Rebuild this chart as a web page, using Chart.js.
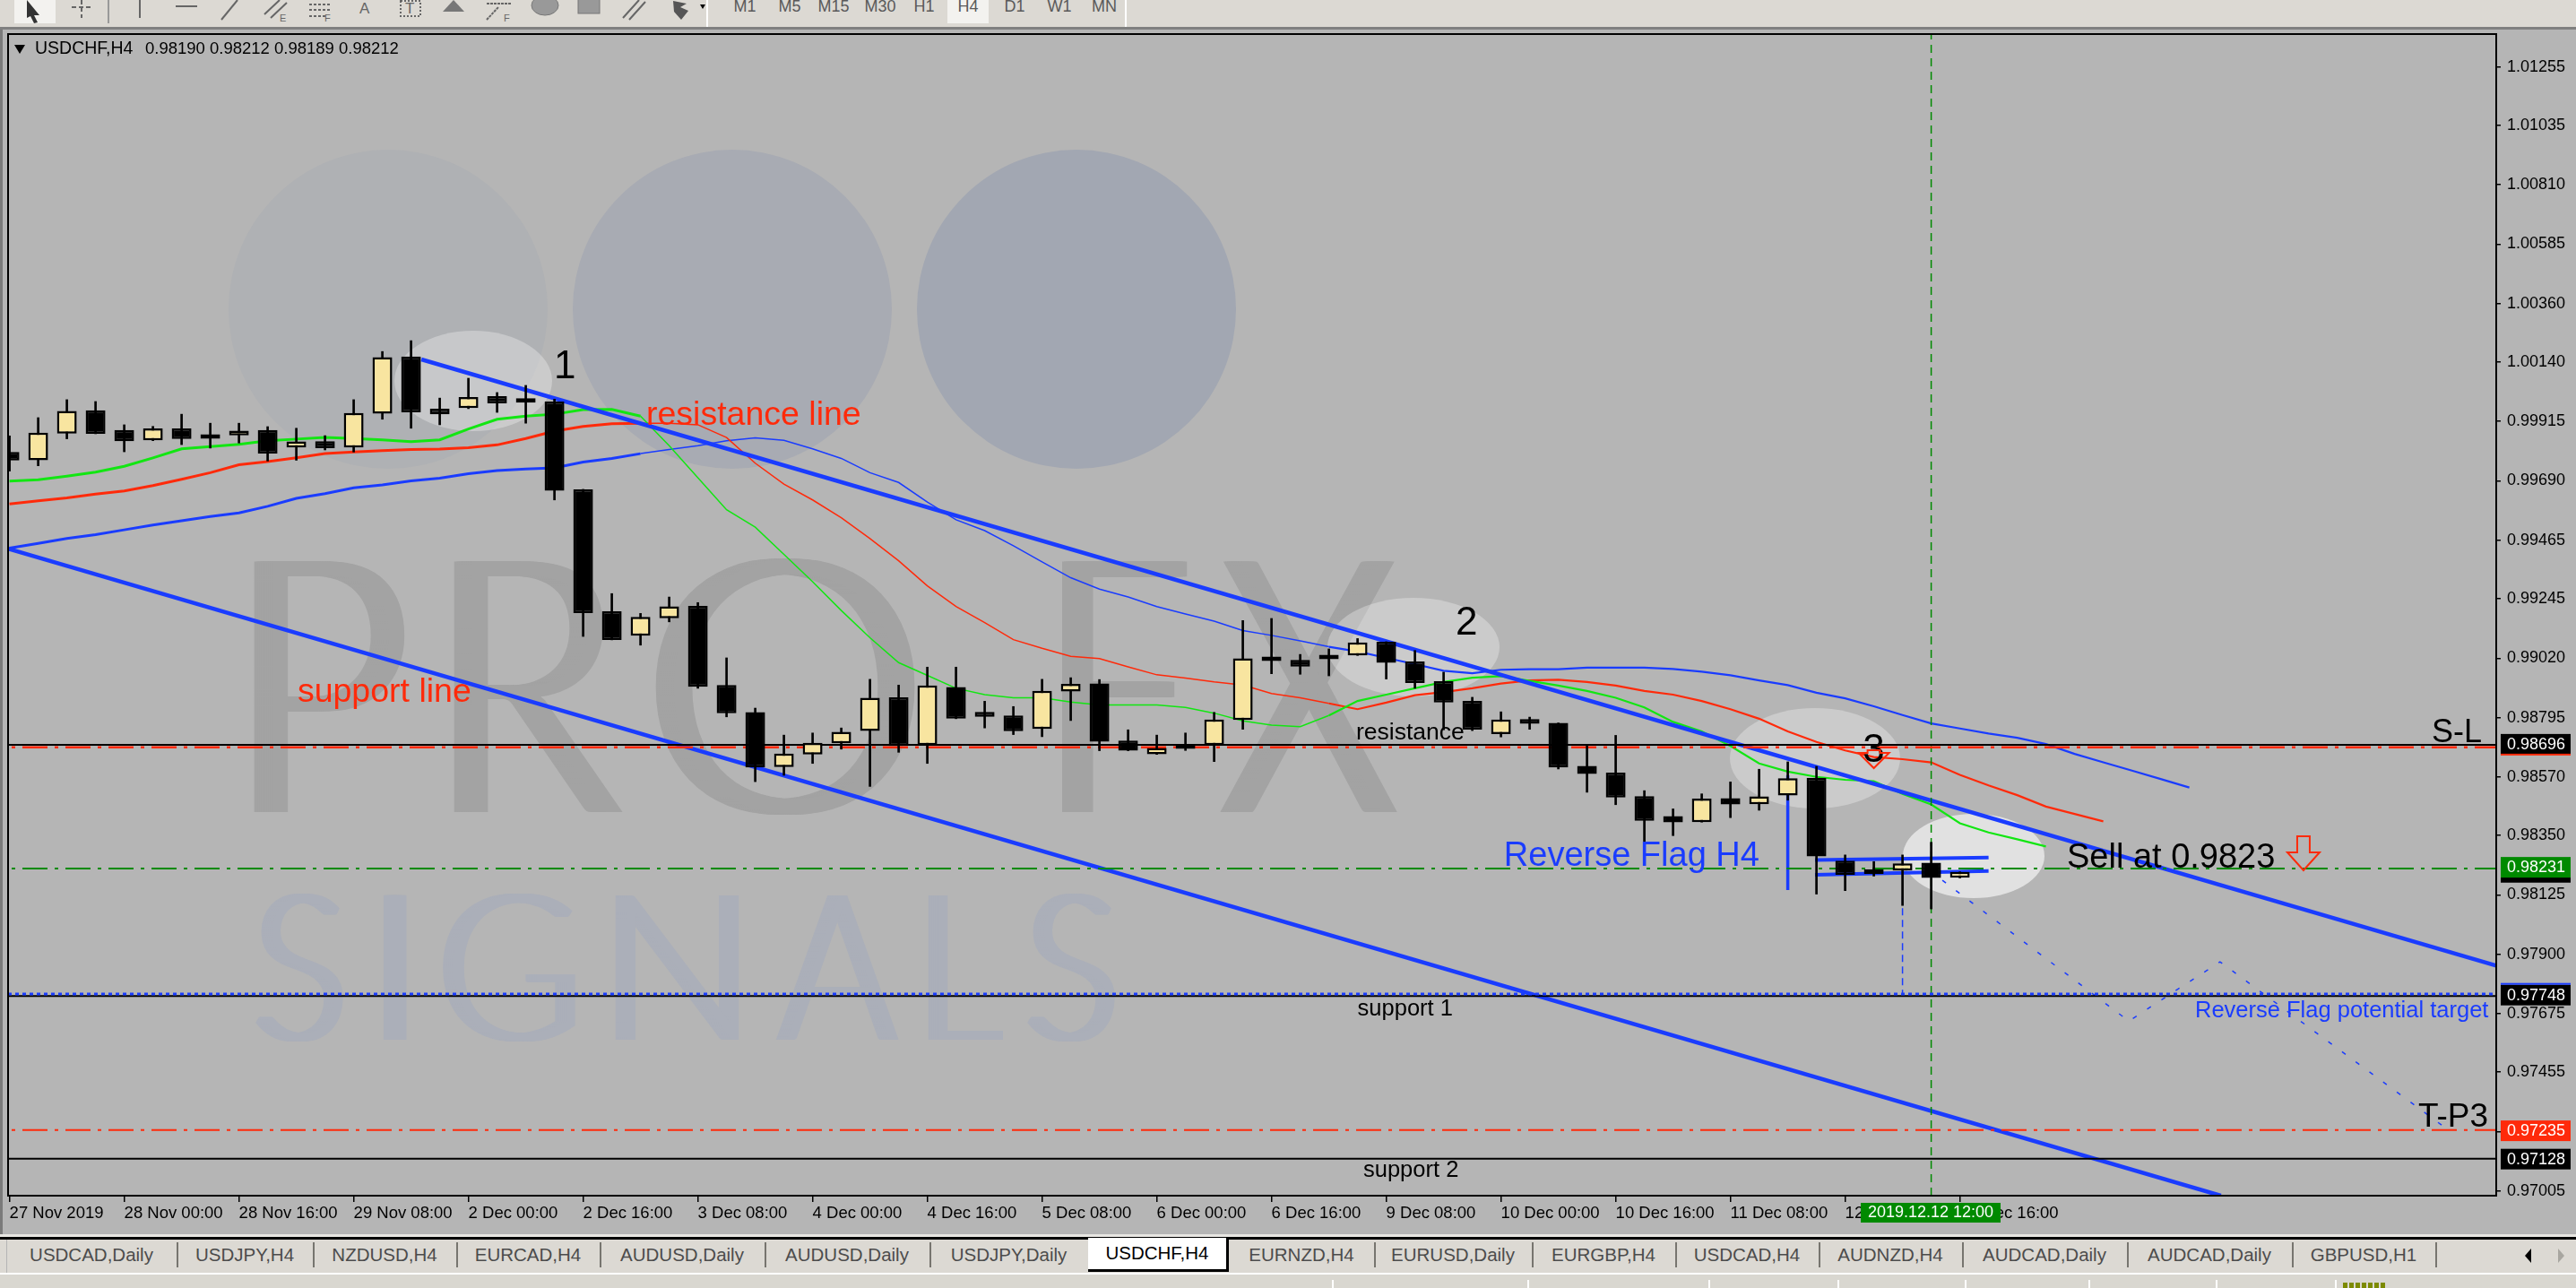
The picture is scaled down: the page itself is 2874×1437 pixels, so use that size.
<!DOCTYPE html>
<html>
<head>
<meta charset="utf-8">
<title>USDCHF,H4</title>
<script src="https://cdn.jsdelivr.net/npm/chart.js@4/dist/chart.umd.min.js"></script>
<style>
html, body { margin: 0; padding: 0; width: 2874px; height: 1437px; overflow: hidden; background: #b5b5b5; font-family: "Liberation Sans", sans-serif; }
#wrap { position: absolute; left: 0; top: 0; width: 2874px; height: 1437px; }
.bar { position: absolute; left: 0; width: 2874px; background: #dcd9d3; }
.abs { position: absolute; }
.tf { position: absolute; top: 0; height: 26px; line-height: 14px; font-size: 18px; color: #5a5a5a; transform: translateX(-50%); white-space: nowrap; }
.tab { position: absolute; top: 1384px; height: 36px; line-height: 31px; font-size: 20.5px; color: #4c4c4c; text-align: center; white-space: nowrap; }
.sep { position: absolute; width: 2px; background: #77756f; }
</style>
</head>
<body>
<div id="wrap"><canvas id="chart"></canvas></div>
<script>
// values, one entry per H4 candle
const openValues = [0.99799,0.99768,0.99869,0.99957,0.99882,0.99843,0.99888,0.99861,0.99862,0.99882,0.99816,0.9984,0.99816,0.99944,1.0016,0.99963,0.99965,1.0001,0.99989,0.9999,0.99658,0.99197,0.99105,0.99171,0.99217,0.98918,0.98816,0.98608,0.98656,0.98698,0.98745,0.98872,0.98691,0.98911,0.98817,0.98803,0.98752,0.98894,0.98924,0.98708,0.98657,0.98677,0.98691,0.98786,0.99014,0.99013,0.99016,0.9903,0.99082,0.99007,0.98933,0.98858,0.98733,0.9879,0.98775,0.98613,0.98587,0.98498,0.98423,0.984,0.98491,0.98468,0.98501,0.98568,0.98254,0.98204,0.98217,0.98247,0.9819];
const highValues = [0.9986,0.99929,0.99997,0.9999,0.99902,0.99896,0.99942,0.99908,0.99908,0.99895,0.99889,0.99861,0.99997,1.00179,1.0022,1.00003,1.00078,1.00024,1.00051,0.99999,0.99658,0.99264,0.99189,0.99251,0.9923,0.99021,0.98831,0.98729,0.98737,0.98756,0.9894,0.98918,0.98986,0.98986,0.98857,0.98837,0.9894,0.98946,0.98939,0.98749,0.98729,0.98737,0.98815,0.99162,0.9917,0.99034,0.99055,0.99094,0.99082,0.99049,0.98967,0.98872,0.98817,0.98797,0.98775,0.98688,0.98728,0.98519,0.9845,0.98507,0.98552,0.986,0.98628,0.98611,0.98276,0.98251,0.98276,0.98324,0.98212];
const lowValues = [0.99727,0.99747,0.99849,0.99868,0.998,0.99842,0.99827,0.99814,0.99833,0.99765,0.99768,0.99807,0.99799,0.99923,0.99889,0.99902,0.99963,0.99949,0.99908,0.99618,0.99102,0.99089,0.99069,0.99157,0.98906,0.98798,0.98553,0.98577,0.98622,0.98676,0.98535,0.98664,0.98622,0.98791,0.98756,0.98731,0.98723,0.98784,0.9867,0.9867,0.98656,0.98671,0.98629,0.98751,0.98961,0.98959,0.98953,0.9903,0.98941,0.98906,0.98749,0.98746,0.98722,0.98751,0.98601,0.98513,0.98466,0.98325,0.98349,0.984,0.98417,0.98445,0.98483,0.98128,0.98141,0.98196,0.98085,0.98072,0.98189];
const closeValues = [0.99767,0.99872,0.99954,0.99868,0.9984,0.99888,0.99848,0.99849,0.9988,0.99793,0.99839,0.99814,0.99947,1.00158,0.99949,0.99942,1.00007,0.99983,0.99986,0.99653,0.9919,0.99089,0.99176,0.99216,0.98912,0.98812,0.98607,0.98659,0.987,0.98741,0.9887,0.98688,0.98917,0.98791,0.98798,0.98744,0.98896,0.98923,0.98704,0.9867,0.9868,0.98691,0.98788,0.99019,0.99009,0.98988,0.99033,0.99079,0.99002,0.98926,0.98852,0.9875,0.98788,0.98772,0.98607,0.98582,0.98493,0.98405,0.98399,0.98489,0.98467,0.98497,0.98566,0.9827,0.98201,0.98219,0.98244,0.98189,0.98212];

// moving averages, shifted forward so they run past the last candle
const greenMa = [0.99689,0.99694,0.99708,0.99723,0.99745,0.99777,0.99811,0.9982,0.99828,0.99842,0.99848,0.99854,0.9985,0.99845,0.99838,0.99845,0.99886,0.99923,0.99935,0.99942,0.99959,0.9996,0.99935,0.99823,0.99702,0.99581,0.99515,0.99412,0.99309,0.992,0.99097,0.99003,0.98955,0.98906,0.98882,0.9887,0.9887,0.98854,0.98843,0.98843,0.98843,0.98834,0.98812,0.98783,0.98767,0.98761,0.98803,0.98858,0.98882,0.98906,0.9893,0.98946,0.98952,0.98934,0.98916,0.98896,0.9887,0.98834,0.98779,0.98743,0.98688,0.98622,0.98591,0.98571,0.9856,0.98555,0.98507,0.98467,0.98396,0.98361,0.98335,0.98308];
const redMa = [0.99603,0.99615,0.99626,0.9964,0.99652,0.99672,0.99696,0.99721,0.99751,0.99763,0.99777,0.99793,0.99799,0.99804,0.99809,0.9981,0.99815,0.99826,0.9985,0.99878,0.99896,0.99906,0.99908,0.99908,0.99902,0.99854,0.99757,0.99678,0.99618,0.99551,0.99472,0.99388,0.99293,0.99215,0.99154,0.9909,0.99057,0.99027,0.99018,0.98987,0.98957,0.98945,0.9893,0.98918,0.98886,0.9887,0.98849,0.98827,0.98852,0.9888,0.98892,0.98906,0.98924,0.98936,0.98938,0.9893,0.98916,0.98896,0.98882,0.98858,0.98827,0.98791,0.98743,0.98703,0.98671,0.98646,0.98638,0.98626,0.98579,0.98539,0.98502,0.98459,0.98431,0.98403];
const blueMa = [0.99436,0.99454,0.99472,0.99487,0.99505,0.99523,0.99539,0.99555,0.99569,0.99594,0.99624,0.99642,0.99664,0.99675,0.9969,0.997,0.99717,0.99729,0.99735,0.99739,0.99761,0.99775,0.99793,0.99809,0.99823,0.99842,0.99853,0.99843,0.99811,0.99775,0.99721,0.99684,0.9961,0.99543,0.99502,0.99445,0.99384,0.99324,0.99281,0.99251,0.99215,0.99187,0.9916,0.99124,0.99106,0.99085,0.99063,0.99045,0.99021,0.98997,0.98972,0.98963,0.98976,0.98978,0.98978,0.98984,0.98984,0.98984,0.98979,0.98969,0.98955,0.98936,0.98918,0.98889,0.98868,0.98838,0.98805,0.98773,0.98754,0.98735,0.98719,0.98695,0.98658,0.98626,0.98595,0.98563,0.98531];

const yTickValues = [1.01255,1.01035,1.0081,1.00585,1.0036,1.0014,0.99915,0.9969,0.99465,0.99245,0.9902,0.98795,0.9857,0.9835,0.98125,0.979,0.97675,0.97455,0.9723,0.97005];
const xTickLabels = ['27 Nov 2019','28 Nov 00:00','28 Nov 16:00','29 Nov 08:00','2 Dec 00:00','2 Dec 16:00','3 Dec 08:00','4 Dec 00:00','4 Dec 16:00','5 Dec 08:00','6 Dec 00:00','6 Dec 16:00','9 Dec 08:00','10 Dec 00:00','10 Dec 16:00','11 Dec 08:00','12 Dec 00:00','12 Dec 16:00'];

// trend lines and levels drawn on the MT4 chart: bar index / price pairs
const resistanceX = [14.36, 86.7];
const resistanceY = [1.00149, 0.97858];
const supportX = [-0.05, 77.1];
const supportY = [0.99434, 0.96988];
const flagUpperX = [62.95, 69];
const flagUpperY = [0.98257, 0.98266];
const flagLowerX = [62.95, 69];
const flagLowerY = [0.98201, 0.98215];
const poleX = [62, 62];
const poleY = [0.98577, 0.98143];
const dropX = [66, 66];
const dropY = [0.98119, 0.9775];
const pathX = [67.39, 73.89, 77.07, 84.92];
const pathY = [0.9818, 0.97648, 0.97872, 0.97245];
const levelSlBlack = 0.98692;
const levelSlRed = 0.98683;
const levelEntry = 0.98225;
const levelS1Blue = 0.9775;
const levelS1Black = 0.97743;
const levelTp = 0.97236;
const levelS2 = 0.97128;
const crossBar = 67;

const tfNames = ['M1','M5','M15','M30','H1','H4','D1','W1','MN'];
const tabNames = ['USDCAD,Daily','USDJPY,H4','NZDUSD,H4','EURCAD,H4','AUDUSD,Daily','AUDUSD,Daily','USDJPY,Daily','USDCHF,H4','EURNZD,H4','EURUSD,Daily','EURGBP,H4','USDCAD,H4','AUDNZD,H4','AUDCAD,Daily','AUDCAD,Daily','GBPUSD,H1'];

const X_MIN = -0.05, X_MAX = 86.7, Y_MIN = 0.96988, Y_MAX = 1.01379;
const BLUE = '#1a3cff';
const RED = '#ff2a0a';
const GREEN = '#008a00';
const SANS = '"Liberation Sans", sans-serif';

const notes = [
    { text: '1', k: 19.36, p: 1.00078, size: 44, color: '#000', align: 'center' },
    { text: '2', k: 50.8, p: 0.99109, size: 44, color: '#000', align: 'center' },
    { text: '3', k: 65, p: 0.98628, size: 44, color: '#000', align: 'center' },
    { text: 'resistance line', k: 22.2, p: 0.99902, size: 37.5, color: RED },
    { text: 'support line', k: 10.04, p: 0.98855, size: 37.5, color: RED },
    { text: 'resistance', k: 46.95, p: 0.98712, size: 26.5, color: '#000' },
    { text: 'support 1', k: 47, p: 0.97669, size: 25.5, color: '#000' },
    { text: 'support 2', k: 47.2, p: 0.97059, size: 25.5, color: '#000' },
    { text: 'Reverse Flag H4', k: 52.1, p: 0.98234, size: 38, color: BLUE },
    { text: 'Sell at 0.9823', k: 71.73, p: 0.98228, size: 38, color: '#000' },
    { text: 'S-L', k: 84.45, p: 0.98702, size: 36, color: '#000' },
    { text: 'T-P3', k: 83.98, p: 0.97248, size: 37, color: '#000' },
    { text: 'Reverse Flag potential target', k: 76.2, p: 0.97662, size: 25.5, color: BLUE }
];

// right hand price tags, last ones on top
const tags = [
    { text: '', p: 0.98212, bg: '#000', fg: '#fff' },
    { text: '0.98696', p: 0.98696, bg: '#000', fg: '#fff', under: RED },
    { text: '0.98231', p: 0.98231, bg: '#008a00', fg: '#fff' },
    { text: '0.97748', p: 0.97748, bg: '#000', fg: '#fff', over: BLUE },
    { text: '0.97235', p: 0.97235, bg: '#ff2a0a', fg: '#fff' },
    { text: '0.97128', p: 0.97128, bg: '#000', fg: '#fff' }
];

function line(xs, ys, color, width, dash, order) {
    return {
        type: 'line',
        data: xs.map(function(x, i) { return { x: x, y: ys[i] }; }),
        borderColor: color,
        borderWidth: width,
        borderDash: dash || [],
        pointRadius: 0,
        tension: 0,
        fill: false,
        order: order || 5
    };
}

function maLine(values, color) {
    const ds = line(values.map(function(v, i) { return i; }), values, color, 3, null, 6);
    ds.segment = {
        borderWidth: function(ctx) {
            const i = ctx.p0DataIndex;
            if (i < 22) return 3;
            if (i < 46) return 1.5;
            return 2.2;
        }
    };
    return ds;
}

function hLevel(price, color, width, dash) {
    return line([X_MIN - 1, X_MAX + 1], [price, price], color, width, dash, 5);
}

const dashDot = [28, 8, 4, 8];
const candleBars = openValues.map(function(o, i) { return i; });

const datasets = [
    maLine(greenMa, '#12e612'),
    maLine(redMa, '#ff2a0a'),
    maLine(blueMa, '#1a3cff'),
    hLevel(levelSlBlack, '#000', 2),
    hLevel(levelSlRed, RED, 2.5, dashDot),
    hLevel(levelEntry, GREEN, 2, dashDot),
    hLevel(levelS1Blue, BLUE, 3, [4, 4]),
    hLevel(levelS1Black, '#000', 2),
    hLevel(levelTp, RED, 2, dashDot),
    hLevel(levelS2, '#000', 2),
    line([crossBar, crossBar], [Y_MIN, Y_MAX], GREEN, 1.5, [9, 6], 5),
    line(resistanceX, resistanceY, BLUE, 4.5, null, 5.5),
    line(supportX, supportY, BLUE, 4.5, null, 5.5),
    line(flagUpperX, flagUpperY, BLUE, 4),
    line(flagLowerX, flagLowerY, BLUE, 4),
    line(poleX, poleY, BLUE, 3.5),
    line(dropX, dropY, BLUE, 1.5, [8, 5]),
    line(pathX, pathY, BLUE, 1.5, [5, 14]),
    {
        type: 'bar',
        data: candleBars.map(function(k) { return { x: k, y: [lowValues[k], highValues[k]] }; }),
        backgroundColor: '#000',
        barThickness: 2,
        grouped: false,
        order: 2
    },
    {
        type: 'bar',
        data: candleBars.map(function(k) {
            return { x: k, y: [Math.min(openValues[k], closeValues[k]), Math.max(openValues[k], closeValues[k])] };
        }),
        backgroundColor: candleBars.map(function(k) { return closeValues[k] >= openValues[k] ? '#f8e5a0' : '#000'; }),
        borderColor: '#000',
        borderWidth: 2.5,
        borderSkipped: false,
        inflateAmount: 0,
        minBarLength: 5,
        barThickness: 22,
        grouped: false,
        order: 1
    }
];

// logo letter: squeezed to its box, then smeared sideways for the thick stems and thin bars of the logo face
function logoLetter(ctx, text, left, right, base, smear) {
    const m = ctx.measureText(text);
    const ink = m.actualBoundingBoxRight + m.actualBoundingBoxLeft;
    const sx = (right - left - smear) / ink;
    for (let d = 0; d <= smear; d += 2) {
        ctx.save();
        ctx.translate(left + d, base);
        ctx.scale(sx, 1);
        ctx.fillText(text, m.actualBoundingBoxLeft, 0);
        ctx.restore();
    }
}

// logo watermark and the pale highlight blobs sit under everything
const backdrop = {
    id: 'backdrop',
    beforeDatasetsDraw: function(chart) {
        const ctx = chart.ctx;
        const area = chart.chartArea;
        ctx.save();
        ctx.beginPath();
        ctx.rect(area.left, area.top, area.right - area.left, area.bottom - area.top);
        ctx.clip();
        [[433, '#afb1b4'], [817, '#a8abb3'], [1201, '#a2a7b2']].forEach(function(c) {
            ctx.fillStyle = c[1];
            ctx.beginPath();
            ctx.arc(c[0], 345, 178, 0, Math.PI * 2);
            ctx.fill();
        });
        ctx.fillStyle = '#a3a3a3';
        ctx.font = '300 395px Lato, "Liberation Sans", sans-serif';
        ctx.textBaseline = 'alphabetic';
        [['P', 280, 454], ['R', 503, 695], ['O', 727, 1021], ['F', 1182, 1325], ['X', 1360, 1561]].forEach(function(l) {
            logoLetter(ctx, l[0], l[1], l[2], 906, 20);
        });
        ctx.fillStyle = '#abafb9';
        ctx.font = '300 228px Lato, "Liberation Sans", sans-serif';
        [['S', 285, 383], ['I', 427, 454], ['G', 494, 642], ['N', 686, 825], ['A', 865, 1003], ['L', 1035, 1119], ['S', 1146, 1244]].forEach(function(l) {
            logoLetter(ctx, l[0], l[1], l[2], 1160, 12);
        });
        [[528, 425, 88, 56, 0.3], [1577, 722, 96, 55, 0.3], [2025, 846, 95, 56, 0.3], [2202, 955, 79, 47, 0.6]].forEach(function(e) {
            ctx.fillStyle = 'rgba(255,255,255,' + e[4] + ')';
            ctx.beginPath();
            ctx.ellipse(e[0], e[1], e[2], e[3], 0, 0, Math.PI * 2);
            ctx.fill();
        });
        ctx.restore();
    }
};

function hollowArrow(ctx, x, tip, top, shaft, head, headH) {
    ctx.beginPath();
    ctx.moveTo(x - shaft, top);
    ctx.lineTo(x + shaft, top);
    ctx.lineTo(x + shaft, tip - headH);
    ctx.lineTo(x + head, tip - headH);
    ctx.lineTo(x, tip);
    ctx.lineTo(x - head, tip - headH);
    ctx.lineTo(x - shaft, tip - headH);
    ctx.closePath();
    ctx.stroke();
}

// texts, arrows, price tags and the frame
const overlay = {
    id: 'overlay',
    afterDraw: function(chart) {
        const ctx = chart.ctx;
        const sx = chart.scales.x;
        const sy = chart.scales.y;
        const area = chart.chartArea;
        ctx.save();
        ctx.textBaseline = 'alphabetic';
        notes.forEach(function(n) {
            ctx.font = n.size + 'px ' + SANS;
            ctx.fillStyle = n.color;
            ctx.textAlign = n.align || 'left';
            ctx.fillText(n.text, sx.getPixelForValue(n.k), sy.getPixelForValue(n.p));
        });
        ctx.strokeStyle = RED;
        ctx.lineWidth = 2;
        const bigY = sy.getPixelForValue(0.98218);
        hollowArrow(ctx, sx.getPixelForValue(79.98), bigY, bigY - 38, 7, 18, 20);
        const smallY = sy.getPixelForValue(0.98604);
        hollowArrow(ctx, sx.getPixelForValue(65), smallY, smallY - 20, 7, 17, 17);

        ctx.strokeStyle = '#000';
        ctx.lineWidth = 2;
        ctx.strokeRect(area.left, area.top, area.right - area.left, area.bottom - area.top);

        ctx.font = '18px ' + SANS;
        ctx.textBaseline = 'middle';
        ctx.textAlign = 'left';
        tags.forEach(function(t) {
            const y = sy.getPixelForValue(t.p);
            ctx.fillStyle = t.bg;
            ctx.fillRect(area.right + 5, y - 11, 78, 23);
            if (t.under) { ctx.fillStyle = t.under; ctx.fillRect(area.right + 5, y + 11, 78, 2); }
            if (t.over) { ctx.fillStyle = t.over; ctx.fillRect(area.right + 5, y - 13, 78, 2); }
            ctx.fillStyle = t.fg;
            ctx.fillText(t.text, area.right + 12, y + 1);
        });

        // crosshair time tag
        ctx.fillStyle = '#008a00';
        ctx.fillRect(2076, 1342, 156, 22);
        ctx.fillStyle = '#fff';
        ctx.textAlign = 'center';
        ctx.fillText('2019.12.12 12:00', 2154, 1353);

        // header text
        ctx.textAlign = 'left';
        ctx.fillStyle = '#000';
        ctx.font = '19.5px ' + SANS;
        ctx.fillText('USDCHF,H4', 39, 55);
        ctx.font = '18.5px ' + SANS;
        ctx.fillText('0.98190 0.98212 0.98189 0.98212', 162, 55);
        ctx.beginPath();
        ctx.moveTo(16, 50);
        ctx.lineTo(28, 50);
        ctx.lineTo(22, 60);
        ctx.closePath();
        ctx.fill();
        ctx.restore();
    }
};

new Chart(document.getElementById('chart').getContext('2d'), {
    type: 'line',
    data: { datasets: datasets },
    plugins: [backdrop, overlay],
    options: {
        responsive: true,
        maintainAspectRatio: false,
        animation: false,
        events: [],
        layout: { padding: { left: 9, top: 38, right: 0, bottom: 0 } },
        plugins: { legend: { display: false }, title: { display: false }, tooltip: { enabled: false } },
        scales: {
            x: {
                type: 'linear',
                min: X_MIN,
                max: X_MAX,
                offset: false,
                border: { display: false },
                grid: { offset: false, drawOnChartArea: false, drawTicks: true, color: '#000', lineWidth: 1.5, tickLength: 7 },
                afterBuildTicks: function(scale) {
                    scale.ticks = xTickLabels.map(function(l, i) { return { value: i * 4 }; });
                },
                afterFit: function(scale) { scale.height = 103; },
                ticks: {
                    autoSkip: false,
                    maxRotation: 0,
                    minRotation: 0,
                    align: 'start',
                    padding: 2,
                    color: '#000',
                    font: { family: 'Liberation Sans', size: 18.5 },
                    callback: function(v, i) { return xTickLabels[i]; }
                }
            },
            y: {
                type: 'linear',
                position: 'right',
                min: Y_MIN,
                max: Y_MAX,
                beginAtZero: false,
                border: { display: false },
                grid: { drawOnChartArea: false, drawTicks: true, color: '#000', lineWidth: 1.5, tickLength: 5 },
                afterBuildTicks: function(scale) {
                    scale.ticks = yTickValues.map(function(v) { return { value: v }; });
                },
                afterFit: function(scale) { scale.width = 89; },
                ticks: {
                    autoSkip: false,
                    padding: 7,
                    crossAlign: 'near',
                    color: '#000',
                    font: { family: 'Liberation Sans', size: 18 },
                    callback: function(v) { return v.toFixed(5); }
                }
            }
        }
    }
});

// MT4 window furniture around the chart
function addDiv(cls, css, text) {
    const d = document.createElement('div');
    d.className = cls;
    d.style.cssText = css;
    if (text) d.textContent = text;
    document.body.appendChild(d);
    return d;
}

addDiv('bar', 'top:0;height:30px;');
addDiv('abs', 'left:0;top:30px;width:2874px;height:3px;background:#808080;');
addDiv('abs', 'left:0;top:33px;width:3px;height:1345px;background:#7a7a7a;');
addDiv('abs', 'left:16px;top:0;width:46px;height:26px;background:#f3f2ef;');
addDiv('abs', 'left:1057px;top:0;width:46px;height:26px;background:#f3f2ef;');
addDiv('abs', 'left:788px;top:0;width:2px;height:30px;background:#fff;');
addDiv('abs', 'left:1255px;top:0;width:2px;height:30px;background:#fff;');

[831, 881, 930, 982, 1031, 1080, 1132, 1182, 1232].forEach(function(x, i) {
    addDiv('tf', 'left:' + x + 'px;', tfNames[i]);
});

const icons = document.createElementNS('http://www.w3.org/2000/svg', 'svg');
icons.setAttribute('width', '800');
icons.setAttribute('height', '30');
icons.style.cssText = 'position:absolute;left:0;top:0;';
icons.innerHTML =
    '<g stroke="#666" stroke-width="2" fill="none">' +
    '<path d="M91 0V20M80 8H102" stroke-dasharray="5 3"/>' +
    '<path d="M121 0V26" stroke="#999"/>' +
    '<path d="M156 0V20"/><path d="M196 7H220"/><path d="M247 22L265 0"/>' +
    '<path d="M295 16L312 0M302 20L320 3"/><path d="M345 5H370M345 11H370M345 18H365" stroke-dasharray="3 2"/>' +
    '<path d="M695 20L713 0M702 22L720 2"/>' +
    '<rect x="447" y="1" width="22" height="17" stroke-dasharray="2 2"/>' +
    '<path d="M543 4H570M543 22L556 8" stroke-dasharray="3 1"/>' +
    '</g>' +
    '<path d="M30 0L44 17L38 17L42 25L38 26L34 18L30 20Z" fill="#333"/>' +
    '<path d="M506 0L518 13H494Z" fill="#777"/>' +
    '<ellipse cx="608" cy="6" rx="15" ry="11" fill="#999" stroke="#777"/>' +
    '<rect x="645" y="-2" width="24" height="17" fill="#999" stroke="#777"/>' +
    '<path d="M751 1L766 4L759 8L768 12L760 22L752 13Z" fill="#555"/>' +
    '<path d="M781 5L787 5L784 10Z" fill="#000"/>' +
    '<g font-family="Liberation Sans" font-size="17" fill="#666">' +
    '<text x="401" y="15">A</text><text x="452" y="15">T</text>' +
    '<text x="312" y="24" font-size="11">E</text><text x="362" y="24" font-size="11">F</text><text x="562" y="24" font-size="11">F</text>' +
    '</g>';
document.body.appendChild(icons);

// tab strip
addDiv('abs', 'left:0;top:1377px;width:2874px;height:3px;background:#e8e6e2;');
addDiv('abs', 'left:0;top:1380px;width:2874px;height:3px;background:#000;');
addDiv('bar', 'top:1383px;height:37px;');
addDiv('abs', 'left:0;top:1420px;width:2874px;height:2px;background:#fff;');
addDiv('bar', 'top:1422px;height:15px;background:#d9d7d0;');

const tabEdges = [7,197,349,509,669,853,1037,1214,1371,1533,1709,1869,2029,2189,2373,2557,2717];
tabNames.forEach(function(name, i) {
    const left = tabEdges[i];
    const w = tabEdges[i + 1] - left;
    const t = addDiv('tab', 'left:' + left + 'px;width:' + w + 'px;', name);
    if (i === 7) {
        t.style.cssText += 'background:#fff;color:#000;top:1381px;height:35px;line-height:34px;border-right:3px solid #000;border-bottom:3px solid #000;box-sizing:content-box;width:' + (w - 3) + 'px;';
    } else if (i !== 6) {
        addDiv('sep', 'left:' + (left + w) + 'px;top:1386px;height:28px;');
    }
});
addDiv('sep', 'left:7px;top:1383px;height:37px;background:#b5b5b5;width:1px;');

const arrowsSvg = document.createElementNS('http://www.w3.org/2000/svg', 'svg');
arrowsSvg.setAttribute('width', '60');
arrowsSvg.setAttribute('height', '30');
arrowsSvg.style.cssText = 'position:absolute;left:2810px;top:1386px;';
arrowsSvg.innerHTML = '<path d="M14 7V23L7 15Z" fill="#000"/><path d="M44 7V23L51 15Z" fill="#a8a6a0"/>';
document.body.appendChild(arrowsSvg);

[1486, 1704, 1906, 2050, 2192, 2330, 2472, 2605].forEach(function(x) {
    addDiv('abs', 'left:' + x + 'px;top:1428px;width:2px;height:9px;background:#fff;');
});
addDiv('abs', 'left:2614px;top:1431px;width:47px;height:6px;background:repeating-linear-gradient(90deg,#7c8a00 0 5px,#d9d7d0 5px 7px);');
</script>
</body>
</html>
